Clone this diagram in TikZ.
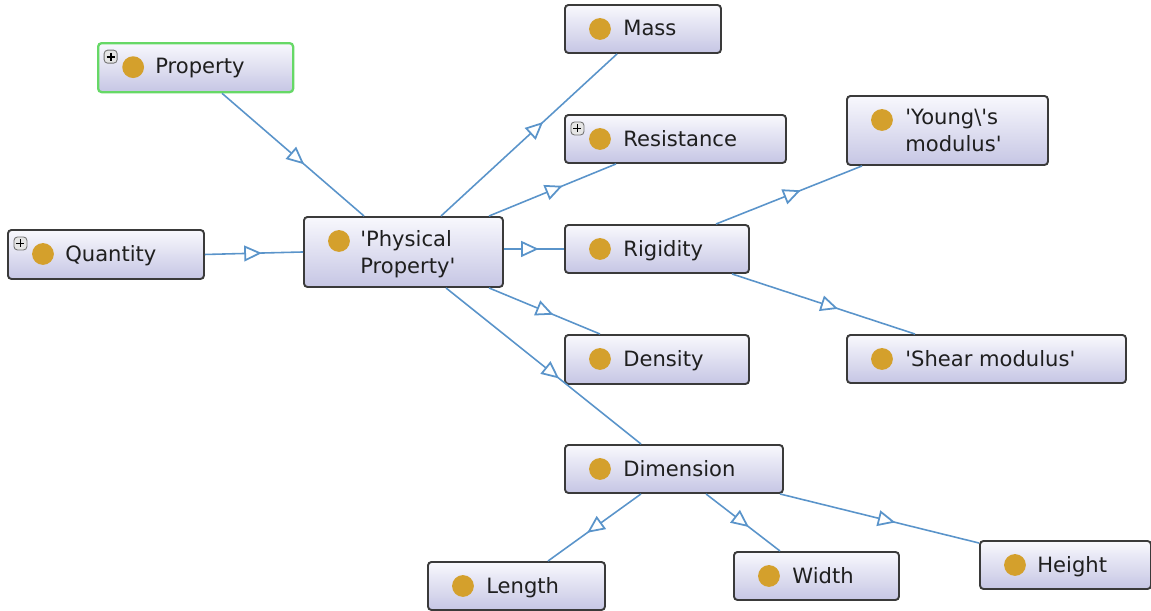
\documentclass[tikz,border=0pt]{standalone}
\usepackage{fontspec}
\setmainfont{DejaVu Sans}
\usetikzlibrary{arrows.meta}
\usetikzlibrary{decorations.markings}
\definecolor{edgeblue}{HTML}{5A94CA}
\definecolor{dotgold}{HTML}{D4A02C}
\definecolor{boxtop}{HTML}{F8F8FD}
\definecolor{boxbot}{HTML}{C6C6E4}
\definecolor{boxline}{HTML}{3A3A3A}
\definecolor{selgreen}{HTML}{66D866}
\newcommand\pxu{0.02cm}
\newcommand\sq{\textquotesingle}
\tikzset{
  cls/.style={draw=boxline, line width=1.1pt, rounded corners=2pt, top color=boxtop,
    bottom color=boxbot, anchor=north west, inner sep=0, minimum height=48*\pxu,
    path picture={\fill[dotgold] ([shift={(35,24)}]path picture bounding box.north west) circle (6.2pt);}},
  clsplus/.style={cls, path picture={
    \fill[dotgold] ([shift={(35,24)}]path picture bounding box.north west) circle (6.2pt);
    \draw[black!55, fill=black!10, line width=0.5pt] ([shift={(6,7)}]path picture bounding box.north west) rectangle +(13,13);
    \draw[black, line width=1.1pt] ([shift={(8.5,13.5)}]path picture bounding box.north west) -- +(8,0)
      ([shift={(12.5,9.5)}]path picture bounding box.north west) -- +(0,8);}},
  txt/.style={anchor=north west, inner sep=0, align=left, text=black!88,
    font=\fontsize{12}{15.3}\selectfont},
  isa/.style={draw=edgeblue, line width=0.9pt, postaction={decorate},
    decoration={markings, mark=at position 0.58 with
      {\arrow[edgeblue]{Triangle[fill=white, length=10pt, width=9pt, line width=1pt]}}}}
}
\begin{document}
\begin{tikzpicture}[x=0.02cm, y=-0.02cm]
\useasboundingbox (0,0) rectangle (1151,610);

% classes
\node[clsplus, draw=selgreen, line width=1.3pt, minimum width=195*\pxu, minimum height=49*\pxu] (prop) at (97,42) {};
\node[txt] (propT) at ([shift={(58,16)}]prop.north west) {Property};
\node[clsplus, minimum width=196*\pxu, minimum height=49*\pxu] (quant) at (7,229) {};
\node[txt] (quantT) at ([shift={(58,16)}]quant.north west) {Quantity};
\node[cls, minimum width=199*\pxu, minimum height=70*\pxu] (phys) at (303,216) {};
\node[txt] (physT) at ([shift={(57,14)}]phys.north west) {\sq Physical\\Property\sq};

\node[cls, minimum width=156*\pxu] (mass) at (564,4) {};
\node[txt] (massT) at ([shift={(59,16)}]mass.north west) {Mass};
\node[clsplus, minimum width=221*\pxu] (resist) at (564,114) {};
\node[txt] (resistT) at ([shift={(59,16)}]resist.north west) {Resistance};
\node[cls, minimum width=184*\pxu] (rigid) at (564,224) {};
\node[txt] (rigidT) at ([shift={(59,16)}]rigid.north west) {Rigidity};
\node[cls, minimum width=184*\pxu, minimum height=49*\pxu] (dens) at (564,334) {};
\node[txt] (densT) at ([shift={(59,16)}]dens.north west) {Density};
\node[cls, minimum width=218*\pxu] (dim) at (564,444) {};
\node[txt] (dimT) at ([shift={(59,16)}]dim.north west) {Dimension};

\node[cls, minimum width=201*\pxu, minimum height=69*\pxu] (young) at (846,95) {};
\node[txt] (youngT) at ([shift={(59,14)}]young.north west) {\sq Young\textbackslash\sq s\\modulus\sq};
\node[cls, minimum width=279*\pxu] (shear) at (846,334) {};
\node[txt] (shearT) at ([shift={(59,16)}]shear.north west) {\sq Shear modulus\sq};

\node[cls, minimum width=177*\pxu] (len) at (427,561) {};
\node[txt] (lenT) at ([shift={(59,16)}]len.north west) {Length};
\node[cls, minimum width=165*\pxu] (wid) at (733,551) {};
\node[txt] (widT) at ([shift={(59,16)}]wid.north west) {Width};
\node[cls, minimum width=171*\pxu] (hgt) at (979,540) {};
\node[txt] (hgtT) at ([shift={(58,16)}]hgt.north west) {Height};

% subclass edges
\draw[isa] ([shift={(125,0)}]prop.south west) -- ([shift={(61,0)}]phys.north west);
\draw[isa] (quant.east) -- (phys.west);
\draw[isa] ([shift={(138,0)}]phys.north west) -- ([shift={(53,0)}]mass.south west);
\draw[isa] ([shift={(186,0)}]phys.north west) -- ([shift={(52,0)}]resist.south west);
\draw[isa] (phys.east |- rigid.west) -- (rigid.west);
\draw[isa] ([shift={(186,0)}]phys.south west) -- ([shift={(36,0)}]dens.north west);
\draw[isa] ([shift={(143,0)}]phys.south west) -- ([shift={(77,0)}]dim.north west);
\draw[isa] ([shift={(152,0)}]rigid.north west) -- ([shift={(16,0)}]young.south west);
\draw[isa] ([shift={(168,0)}]rigid.south west) -- ([shift={(69,0)}]shear.north west);
\draw[isa] ([shift={(77,0)}]dim.south west) -- ([shift={(121,0)}]len.north west);
\draw[isa] ([shift={(142,0)}]dim.south west) -- ([shift={(47,0)}]wid.north west);
\draw[isa] ([shift={(-4,0)}]dim.south east) -- ([shift={(0,3)}]hgt.north west);
\end{tikzpicture}
\end{document}
